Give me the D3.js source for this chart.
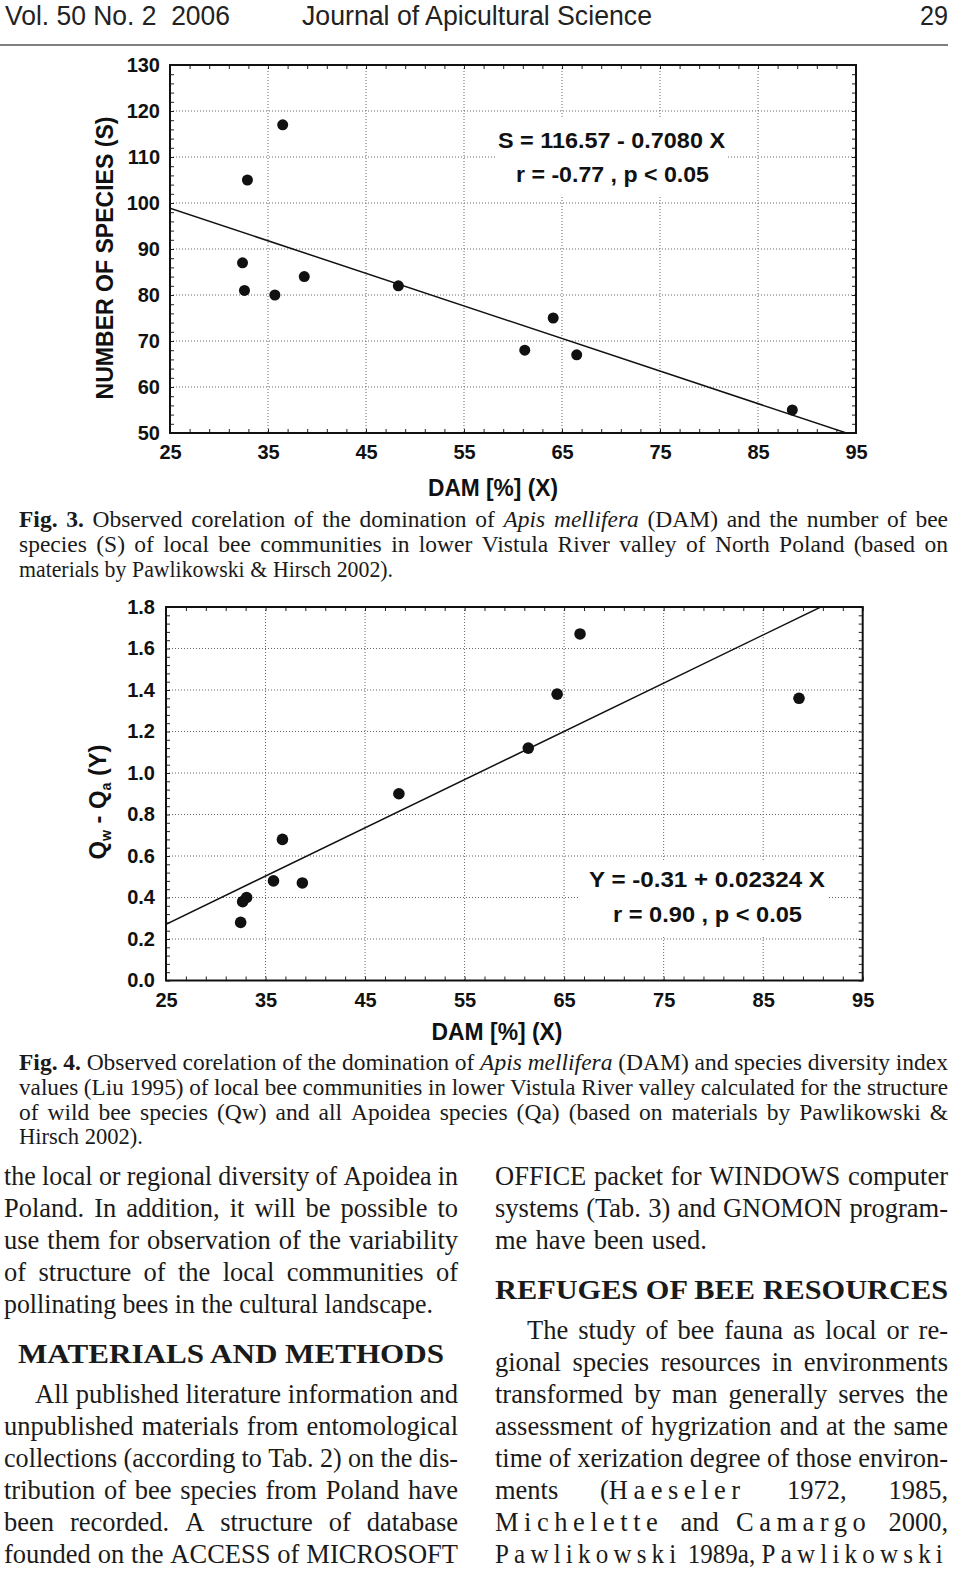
<!DOCTYPE html>
<html>
<head>
<meta charset="utf-8">
<script src="https://cdn.jsdelivr.net/npm/d3@7"></script>
<style>
  html, body { margin: 0; padding: 0; background: #fff; }
  svg { display: block; }
</style>
</head>
<body>
<div id="page"></div>
<script>
// values (Fig. 3 and Fig. 4)
var dam3    = [32.4, 32.6, 32.9, 35.7, 36.5, 38.7, 48.3, 61.2, 64.1, 66.5, 88.5];
var species = [87, 81, 105, 80, 117, 84, 82, 68, 75, 67, 55];

var dam4  = [32.5, 32.7, 33.1, 35.8, 36.7, 38.7, 48.4, 61.4, 64.3, 66.6, 88.6];
var qDiff = [0.28, 0.38, 0.40, 0.48, 0.68, 0.47, 0.90, 1.12, 1.38, 1.67, 1.36];

var xTicks  = [25, 35, 45, 55, 65, 75, 85, 95];
var yTicks3 = [50, 60, 70, 80, 90, 100, 110, 120, 130];
var yTicks4 = [0, 0.2, 0.4, 0.6, 0.8, 1.0, 1.2, 1.4, 1.6, 1.8];

// regression lines printed on the figures
var fit3 = {a: 116.57, b: -0.7080};
var fit4 = {a: -0.31, b: 0.02324};

var W = 960, H = 1579;
var svg = d3.select("#page").append("svg").attr("width", W).attr("height", H);
svg.append("rect").attr("width", W).attr("height", H).attr("fill", "#fff");

var SANS = "'Liberation Sans', Arial, sans-serif";
var SERIF = "'Liberation Serif', 'Times New Roman', serif";

/* ---------- running head ---------- */
var head = svg.append("g").attr("font-family", SANS).attr("font-size", 27).attr("fill", "#222");
head.append("text").attr("x", 5).attr("y", 25).attr("textLength", 225).attr("lengthAdjust", "spacingAndGlyphs")
  .attr("xml:space", "preserve").text("Vol. 50 No. 2  2006");
head.append("text").attr("x", 302).attr("y", 25).attr("textLength", 350).attr("lengthAdjust", "spacingAndGlyphs")
  .text("Journal of Apicultural Science");
head.append("text").attr("x", 920).attr("y", 25).attr("textLength", 28).attr("lengthAdjust", "spacingAndGlyphs")
  .text("29");
svg.append("line").attr("x1", 0).attr("x2", 948).attr("y1", 45).attr("y2", 45)
  .attr("stroke", "#555").attr("stroke-width", 1.5);

/* ---------- chart drawer ---------- */
function drawChart(c) {
  var g = svg.append("g");
  var x = c.x, y = c.y;
  var x0 = x.range()[0], x1 = x.range()[1], yb = y.range()[0], yt = y.range()[1];
  var clipId = "clip" + c.id;
  svg.append("clipPath").attr("id", clipId).append("rect")
    .attr("x", x0).attr("y", yt).attr("width", x1 - x0).attr("height", yb - yt);

  // dotted grid
  var grid = g.append("g").attr("stroke", "#666").attr("stroke-width", 1).attr("stroke-dasharray", "1,2");
  grid.selectAll(".gx").data(c.xTicks.slice(1, -1)).enter().append("line")
    .attr("x1", function(d){ return x(d); }).attr("x2", function(d){ return x(d); })
    .attr("y1", yt).attr("y2", yb);
  grid.selectAll(".gy").data(c.yTicks.slice(1, -1)).enter().append("line")
    .attr("y1", function(d){ return y(d); }).attr("y2", function(d){ return y(d); })
    .attr("x1", x0).attr("x2", x1);

  // white box behind the equation
  g.append("rect").attr("x", c.box[0]).attr("y", c.box[1])
    .attr("width", c.box[2] - c.box[0]).attr("height", c.box[3] - c.box[1]).attr("fill", "#fff");

  // minor inner ticks on all four sides
  var xMinor = d3.range(c.xTicks[0], c.xTicks[c.xTicks.length - 1] + 0.001, c.xMinorStep);
  var yMinor = d3.range(0, c.yTicks.length - 1).reduce(function(a, i) {
    var s = (c.yTicks[i + 1] - c.yTicks[i]) / 5;
    for (var k = 0; k < 5; k++) a.push(c.yTicks[i] + k * s);
    return a;
  }, []);
  var minor = [
    d3.axisBottom(x).tickValues(xMinor).tickSize(-4).tickFormat(""),
    d3.axisTop(x).tickValues(xMinor).tickSize(-4).tickFormat(""),
    d3.axisLeft(y).tickValues(yMinor).tickSize(-4).tickFormat(""),
    d3.axisRight(y).tickValues(yMinor).tickSize(-4).tickFormat("")
  ];
  var pos = ["translate(0," + yb + ")", "translate(0," + yt + ")", "translate(" + x0 + ",0)", "translate(" + x1 + ",0)"];
  minor.forEach(function(ax, i) {
    var a = g.append("g").attr("transform", pos[i]).call(ax);
    a.select(".domain").remove();
    a.selectAll("line").attr("stroke", "#222").attr("stroke-width", 1);
  });

  // labelled axes
  var ax = g.append("g").attr("transform", "translate(0," + yb + ")")
    .call(d3.axisBottom(x).tickValues(c.xTicks).tickSize(0).tickPadding(12));
  var ay = g.append("g").attr("transform", "translate(" + x0 + ",0)")
    .call(d3.axisLeft(y).tickValues(c.yTicks).tickSize(0).tickPadding(c.yPad).tickFormat(c.yFmt));
  [ax, ay].forEach(function(a) {
    a.select(".domain").remove();
    a.selectAll("text").attr("font-family", SANS).attr("font-weight", "bold")
      .attr("font-size", 20).attr("fill", "#111");
  });

  // regression line
  var lx = x.domain();
  g.append("line").attr("clip-path", "url(#" + clipId + ")")
    .attr("x1", x(lx[0])).attr("y1", y(c.fit.a + c.fit.b * lx[0]))
    .attr("x2", x(lx[1])).attr("y2", y(c.fit.a + c.fit.b * lx[1]))
    .attr("stroke", "#111").attr("stroke-width", 1.5);

  // frame
  g.append("rect").attr("x", x0).attr("y", yt).attr("width", x1 - x0).attr("height", yb - yt)
    .attr("fill", "none").attr("stroke", "#111").attr("stroke-width", 2);

  // points
  g.selectAll(".pt").data(c.xs).enter().append("circle")
    .attr("cx", function(d){ return x(d); })
    .attr("cy", function(d, i){ return y(c.ys[i]); })
    .attr("r", c.r).attr("fill", "#111");

  // equation text
  c.eq.forEach(function(e) {
    g.append("text").attr("x", e.cx).attr("y", e.y).attr("text-anchor", "middle")
      .attr("font-family", SANS).attr("font-weight", "bold").attr("font-size", 22).attr("fill", "#111")
      .attr("textLength", e.len).attr("lengthAdjust", "spacingAndGlyphs").text(e.t);
  });

  // axis titles
  g.append("text").attr("x", c.xTitle.cx).attr("y", c.xTitle.y).attr("text-anchor", "middle")
    .attr("font-family", SANS).attr("font-weight", "bold").attr("font-size", 23).attr("fill", "#111")
    .attr("textLength", c.xTitle.len).attr("lengthAdjust", "spacingAndGlyphs").text("DAM [%] (X)");
  var yt2 = g.append("text")
    .attr("transform", "translate(" + c.yTitle.x + "," + c.yTitle.cy + ") rotate(-90)")
    .attr("text-anchor", "middle").attr("font-family", SANS).attr("font-weight", "bold")
    .attr("font-size", c.yTitle.size).attr("fill", "#111")
    .attr("textLength", c.yTitle.len).attr("lengthAdjust", "spacingAndGlyphs");
  c.yTitle.parts.forEach(function(p) {
    var ts = yt2.append("tspan").text(p.t);
    if (p.sub) ts.attr("font-size", c.yTitle.size * 0.6).attr("dy", 5);
    if (p.up) ts.attr("dy", -5);
  });
}

drawChart({
  id: 3,
  x: d3.scaleLinear().domain([25, 95]).range([170, 856]),
  y: d3.scaleLinear().domain([50, 130]).range([433, 65]),
  xTicks: xTicks, yTicks: yTicks3, xMinorStep: 2, yPad: 10,
  yFmt: d3.format("d"),
  xs: dam3, ys: species, r: 5.5,
  fit: fit3,
  box: [495, 118, 727, 195],
  eq: [{t: "S = 116.57 - 0.7080 X", cx: 611.5, y: 148, len: 227},
       {t: "r = -0.77 , p < 0.05", cx: 612.5, y: 182, len: 193}],
  xTitle: {cx: 493, y: 496, len: 130},
  yTitle: {x: 113, cy: 258, len: 283, size: 23, parts: [{t: "NUMBER OF SPECIES (S)"}]}
});

drawChart({
  id: 4,
  x: d3.scaleLinear().domain([25, 95]).range([166, 862.7]),
  y: d3.scaleLinear().domain([0, 1.8]).range([980.5, 607]),
  xTicks: xTicks, yTicks: yTicks4, xMinorStep: 2, yPad: 11,
  yFmt: d3.format(".1f"),
  xs: dam4, ys: qDiff, r: 5.8,
  fit: fit4,
  box: [580, 860, 827, 936],
  eq: [{t: "Y = -0.31 + 0.02324 X", cx: 707, y: 887, len: 236},
       {t: "r = 0.90 , p < 0.05", cx: 707.5, y: 922, len: 189}],
  xTitle: {cx: 497, y: 1040, len: 131},
  yTitle: {x: 106, cy: 802, len: 115, size: 24,
           parts: [{t: "Q"}, {t: "w", sub: 1}, {t: " - Q", up: 1}, {t: "a", sub: 1}, {t: " (Y)", up: 1}]}
});

/* ---------- text blocks (justified line by line) ---------- */
function splitWords(runs) {
  var words = [], cur = [];
  runs.forEach(function(r) {
    r.t.split(/( +)/).forEach(function(tok) {
      if (tok === "") return;
      if (/^ +$/.test(tok)) { if (cur.length) { words.push(cur); cur = []; } return; }
      cur.push({t: tok, b: r.b, i: r.i, ls: r.ls});
    });
  });
  if (cur.length) words.push(cur);
  return words;
}

function layLine(parent, runs, xa, xb, y, size) {
  var words = splitWords(runs);
  var els = words.map(function(w) {
    var t = parent.append("text").attr("y", y);
    w.forEach(function(p) {
      var ts = t.append("tspan").text(p.t);
      if (p.b) ts.attr("font-weight", "bold");
      if (p.i) ts.attr("font-style", "italic");
      if (p.ls) ts.attr("letter-spacing", p.ls);
    });
    return t;
  });
  var widths = els.map(function(e){ return e.node().getComputedTextLength(); });
  var sum = d3.sum(widths), n = els.length;
  var gap = size * 0.25, scale = 1;
  if (n > 1) {
    gap = (xb - xa - sum) / (n - 1);
    var minGap = size * 0.24;
    if (gap < minGap) { gap = minGap; scale = (xb - xa - minGap * (n - 1)) / sum; }
  } else {
    scale = (xb - xa) / sum;
  }
  var xx = xa;
  els.forEach(function(e, i) {
    e.attr("x", xx);
    if (scale !== 1) e.attr("textLength", widths[i] * scale).attr("lengthAdjust", "spacingAndGlyphs");
    xx += widths[i] * scale + gap;
  });
}

function block(lines, size) {
  var g = svg.append("g").attr("font-family", SERIF).attr("font-size", size).attr("fill", "#1a1a1a");
  lines.forEach(function(l) { layLine(g, l.r, l.x0, l.x1, l.y, size); });
}

var cap3 = [
  {r: [{t: "Fig. 3.", b: 1}, {t: " Observed corelation of the domination of "}, {t: "Apis mellifera", i: 1}, {t: " (DAM) and the number of bee"}], x0: 19, x1: 948, y: 527},
  {r: [{t: "species (S) of local bee communities in lower Vistula River valley of North Poland (based on"}], x0: 19, x1: 948, y: 552},
  {r: [{t: "materials by Pawlikowski & Hirsch 2002)."}], x0: 19, x1: 393, y: 577}
];
var cap4 = [
  {r: [{t: "Fig. 4.", b: 1}, {t: " Observed corelation of the domination of "}, {t: "Apis mellifera", i: 1}, {t: " (DAM) and species diversity index"}], x0: 19, x1: 948, y: 1070},
  {r: [{t: "values (Liu 1995) of local bee communities in lower Vistula River valley calculated for the structure"}], x0: 19, x1: 948, y: 1095},
  {r: [{t: "of wild bee species (Qw) and all Apoidea species (Qa) (based on materials by Pawlikowski &"}], x0: 19, x1: 948, y: 1120},
  {r: [{t: "Hirsch 2002)."}], x0: 19, x1: 143, y: 1144}
];
block(cap3, 23.5);
block(cap4, 23.5);

var leftCol = [
  {r: [{t: "the local or regional diversity of Apoidea in"}], x0: 4, x1: 458, y: 1185},
  {r: [{t: "Poland. In addition, it will be possible to"}], x0: 4, x1: 458, y: 1217},
  {r: [{t: "use them for observation of the variability"}], x0: 4, x1: 458, y: 1249},
  {r: [{t: "of structure of the local communities of"}], x0: 4, x1: 458, y: 1281},
  {r: [{t: "pollinating bees in the cultural landscape."}], x0: 4, x1: 433, y: 1313},
  {r: [{t: "All published literature information and"}], x0: 35, x1: 458, y: 1403},
  {r: [{t: "unpublished materials from entomological"}], x0: 4, x1: 458, y: 1435},
  {r: [{t: "collections (according to Tab. 2) on the dis-"}], x0: 4, x1: 458, y: 1467},
  {r: [{t: "tribution of bee species from Poland have"}], x0: 4, x1: 458, y: 1499},
  {r: [{t: "been recorded. A structure of database"}], x0: 4, x1: 458, y: 1531},
  {r: [{t: "founded on the ACCESS of MICROSOFT"}], x0: 4, x1: 458, y: 1563}
];
var rightCol = [
  {r: [{t: "OFFICE packet for WINDOWS computer"}], x0: 495, x1: 948, y: 1185},
  {r: [{t: "systems (Tab. 3) and GNOMON program-"}], x0: 495, x1: 948, y: 1217},
  {r: [{t: "me have been used."}], x0: 495, x1: 707, y: 1249},
  {r: [{t: "The study of bee fauna as local or re-"}], x0: 527, x1: 948, y: 1339},
  {r: [{t: "gional species resources in environments"}], x0: 495, x1: 948, y: 1371},
  {r: [{t: "transformed by man generally serves the"}], x0: 495, x1: 948, y: 1403},
  {r: [{t: "assessment of hygrization and at the same"}], x0: 495, x1: 948, y: 1435},
  {r: [{t: "time of xerization degree of those environ-"}], x0: 495, x1: 948, y: 1467},
  {r: [{t: "ments ("}, {t: "Haeseler", ls: 5.5}, {t: " 1972, 1985,"}], x0: 495, x1: 948, y: 1499},
  {r: [{t: "Michelette", ls: 5.5}, {t: " and "}, {t: "Camargo", ls: 5.5}, {t: " 2000,"}], x0: 495, x1: 948, y: 1531},
  {r: [{t: "Pawlikowski", ls: 5.5}, {t: " 1989a, "}, {t: "Pawlikowski", ls: 5.5}], x0: 495, x1: 948, y: 1563}
];
block(leftCol, 26.5);
block(rightCol, 26.5);

var heads = svg.append("g").attr("font-family", SERIF).attr("font-weight", "bold")
  .attr("font-size", 28).attr("fill", "#1a1a1a");
heads.append("text").attr("x", 18).attr("y", 1363).attr("textLength", 426)
  .attr("lengthAdjust", "spacingAndGlyphs").text("MATERIALS AND METHODS");
heads.append("text").attr("x", 495).attr("y", 1299).attr("textLength", 453)
  .attr("lengthAdjust", "spacingAndGlyphs").text("REFUGES OF BEE RESOURCES");
</script>
</body>
</html>
